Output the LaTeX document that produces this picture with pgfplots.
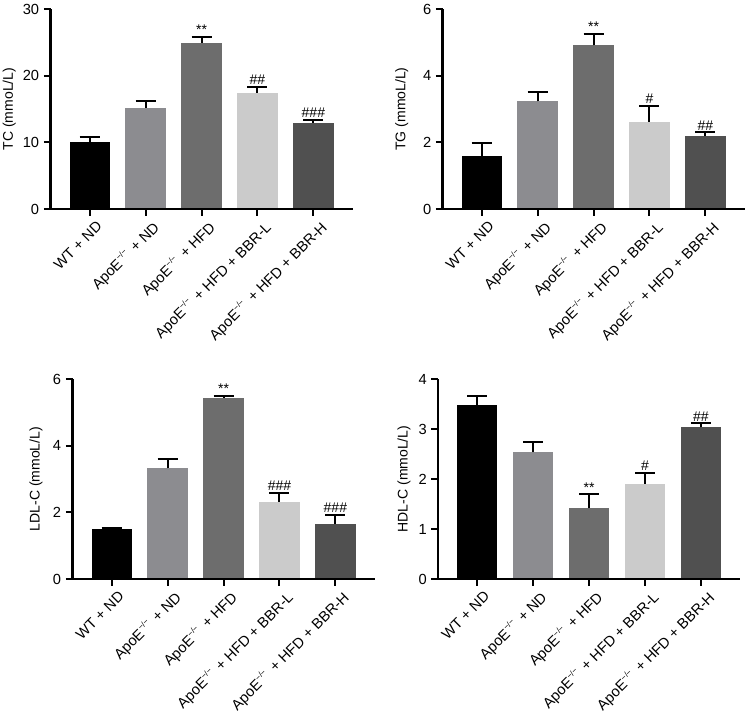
\documentclass[border=0pt]{standalone}
\usepackage{fontspec}
\setmainfont{Liberation Sans}
\usepackage{pgfplots}
\pgfplotsset{compat=1.18}
\definecolor{cA}{HTML}{000000}
\definecolor{cB}{HTML}{8C8C90}
\definecolor{cC}{HTML}{6D6D6D}
\definecolor{cD}{HTML}{CBCBCB}
\definecolor{cE}{HTML}{505050}
\newcommand{\ko}{\raisebox{0.8ex}{\fontsize{6}{7}\selectfont −/−}\,}
\tikzset{ann/.style={anchor=south, inner sep=1.5pt, font=\fontsize{10.5}{11}\selectfont}}
\pgfplotsset{
  panel/.style={
    width=226.5pt, height=150pt, scale only axis,
    axis lines=left, axis line style={line width=2pt,-},
    axis on top,
    xmin=-0.7, xmax=4.7, ymin=0,
    xtick={0,1,2,3,4},
    xticklabels={WT + ND, ApoE\ko{} + ND, ApoE\ko{} + HFD, ApoE\ko{} + HFD + BBR-L, ApoE\ko{} + HFD + BBR-H},
    xticklabel style={xshift=4.5pt, yshift=-3pt, rotate=45, anchor=north east, inner sep=0pt, font=\fontsize{11}{13}\selectfont},
    yticklabel style={font=\fontsize{11}{13}\selectfont},
    ylabel style={font=\fontsize{10.5}{12}\selectfont, anchor=center},
    /pgf/number format/assume math mode=true,
    tick align=outside, major tick length=5pt,
    tick style={line width=1.5pt, black},
    minor tick num=0,
    ybar, bar width=0.72,
  },
  bb/.style={fill=#1, draw=none, bar shift=0pt,
    error bars/.cd, y dir=plus, y explicit,
    error bar style={line width=1.5pt, black},
    error mark options={rotate=90, mark size=7.5pt, line width=1.5pt, black}},
}
\begin{document}
\begin{tikzpicture}
\useasboundingbox (0,0) rectangle (558.75pt,534pt);
% TC
\begin{axis}[panel, at={(37.9pt,377.25pt)}, anchor=south west,
  ymax=30, ytick={0,10,20,30}, ylabel={TC (mmoL/L)},
  ylabel style={at={(axis description cs:-0.137,0.5)}}]
\addplot[bb=cA] coordinates {(0,10.05) +- (0,0.8)};
\addplot[bb=cB] coordinates {(1,15.2) +- (0,1.05)};
\addplot[bb=cC] coordinates {(2,24.95) +- (0,0.85)};
\addplot[bb=cD] coordinates {(3,17.45) +- (0,0.85)};
\addplot[bb=cE] coordinates {(4,12.9) +- (0,0.5)};
\node[ann] at (axis cs:2,25.8) {**};
\node[ann] at (axis cs:3,18.3) {\#\#};
\node[ann] at (axis cs:4,13.4) {\#\#\#};
\end{axis}
% TG
\begin{axis}[panel, at={(331.9pt,377.25pt)}, anchor=south west,
  ymax=6, ytick={0,2,4,6}, ylabel={TG (mmoL/L)},
  ylabel style={at={(axis description cs:-0.135,0.5)}}]
\addplot[bb=cA] coordinates {(0,1.6) +- (0,0.38)};
\addplot[bb=cB] coordinates {(1,3.23) +- (0,0.28)};
\addplot[bb=cC] coordinates {(2,4.91) +- (0,0.35)};
\addplot[bb=cD] coordinates {(3,2.62) +- (0,0.47)};
\addplot[bb=cE] coordinates {(4,2.18) +- (0,0.12)};
\node[ann] at (axis cs:2,5.26) {**};
\node[ann] at (axis cs:3,3.09) {\#};
\node[ann] at (axis cs:4,2.3) {\#\#};
\end{axis}
% LDL-C
\begin{axis}[panel, at={(54.4pt,99.75pt)}, anchor=south west,
  ymax=6, ytick={0,2,4,6}, ylabel={LDL-C (mmoL/L)},
  ylabel style={at={(axis description cs:-0.121,0.5)}}]
\addplot[bb=cA] coordinates {(0,1.5) +- (0,0.04)};
\addplot[bb=cB] coordinates {(1,3.32) +- (0,0.27)};
\addplot[bb=cC] coordinates {(2,5.44) +- (0,0.06)};
\addplot[bb=cD] coordinates {(3,2.32) +- (0,0.27)};
\addplot[bb=cE] coordinates {(4,1.65) +- (0,0.28)};
\node[ann] at (axis cs:2,5.5) {**};
\node[ann] at (axis cs:3,2.59) {\#\#\#};
\node[ann] at (axis cs:4,1.93) {\#\#\#};
\end{axis}
% HDL-C
\begin{axis}[panel, at={(328.6pt,99.75pt)}, anchor=south west,
  ymax=4, ytick={0,1,2,3,4}, ylabel={HDL-C (mmoL/L)},
  ylabel style={at={(axis description cs:-0.113,0.5)}}]
\addplot[bb=cA] coordinates {(0,3.47) +- (0,0.18)};
\addplot[bb=cB] coordinates {(1,2.53) +- (0,0.2)};
\addplot[bb=cC] coordinates {(2,1.41) +- (0,0.28)};
\addplot[bb=cD] coordinates {(3,1.9) +- (0,0.22)};
\addplot[bb=cE] coordinates {(4,3.03) +- (0,0.08)};
\node[ann] at (axis cs:2,1.69) {**};
\node[ann] at (axis cs:3,2.12) {\#};
\node[ann] at (axis cs:4,3.11) {\#\#};
\end{axis}
\end{tikzpicture}
\end{document}
